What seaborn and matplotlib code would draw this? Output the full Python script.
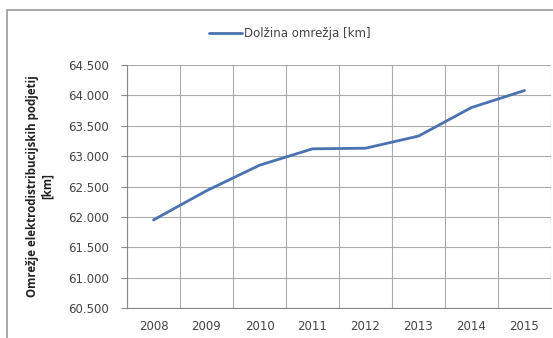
import matplotlib
matplotlib.use("Agg")
import matplotlib.pyplot as plt
import matplotlib.ticker as mticker
from matplotlib.patches import Rectangle
import seaborn as sns
import pandas as pd

years = ["2008", "2009", "2010", "2011", "2012", "2013", "2014", "2015"]
lengths = [61950, 62430, 62850, 63120, 63130, 63330, 63800, 64080]
series_name = "Dolžina omrežja [km]"
y_label = "Omrežje elektrodistribucijskih podjetij\n[km]"

sns.set_theme(style="white")
plt.rcParams['font.family'] = ['DejaVu Sans']

df = pd.DataFrame({"idx": range(len(years)), "val": lengths, "s": series_name})

fig = plt.figure(figsize=(5.53, 3.38), dpi=100)
fig.patch.set_facecolor("white")
fig.patches.append(Rectangle((7/553, -0.01), 1.0, 1 - 10/338 + 0.01, transform=fig.transFigure,
                             fill=False, edgecolor="#9a9a9a", linewidth=1.2))
ax = fig.add_axes([127/553, 1 - 308/338, (551 - 127)/553, (308 - 65)/338])

sns.lineplot(data=df, x="idx", y="val", hue="s", palette=["#4a72b0"], linewidth=2, ax=ax)

ax.set_xlim(-0.5, len(years) - 0.5)
ax.set_ylim(60500, 64500)
ax.yaxis.set_major_locator(mticker.MultipleLocator(500))
ax.yaxis.set_major_formatter(mticker.FuncFormatter(lambda v, p: f"{int(v):,}".replace(",", ".")))
ax.set_xticks(range(len(years)))
ax.set_xticklabels(years)
ax.set_xticks([i + 0.5 for i in range(-1, len(years))], minor=True)
ax.tick_params(axis="x", which="major", length=0, labelsize=8.5, colors="#444444", pad=9)
ax.tick_params(axis="x", which="minor", length=4, color="#888888", width=0.8, direction="out")
ax.tick_params(axis="y", which="major", length=4, color="#888888", width=0.8, direction="out",
               labelsize=8.5, labelcolor="#444444", left=True, pad=9)
ax.grid(True, axis="y", which="major", color="#ababab", linewidth=0.8)
ax.grid(True, axis="x", which="minor", color="#ababab", linewidth=0.8)
ax.grid(False, axis="x", which="major")
for side in ["top", "right"]:
    ax.spines[side].set_visible(False)
for side in ["left", "bottom"]:
    ax.spines[side].set_color("#888888")
    ax.spines[side].set_linewidth(0.8)

ax.set_xlabel("")
ax.set_ylabel(y_label, fontsize=8.3, fontweight="bold", color="#222222", labelpad=10,
              family=["Open Sans", "DejaVu Sans"])

leg = ax.legend(loc="center", bbox_to_anchor=(0.384, 1.131), frameon=False,
                fontsize=8.5, handlelength=2.8, handletextpad=0.1)
for t in leg.get_texts():
    t.set_color("#444444")

fig.savefig("out.png", dpi=100)
